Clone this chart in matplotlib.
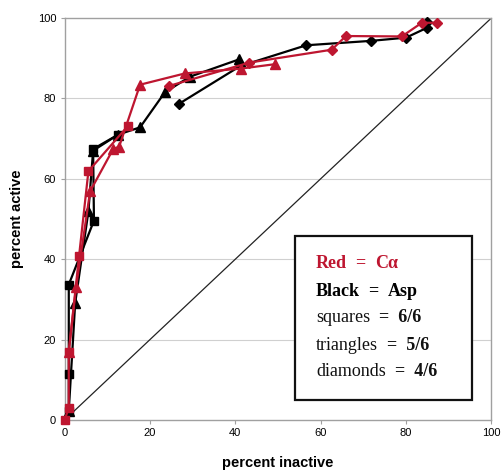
import matplotlib
matplotlib.use("Agg")
import matplotlib.pyplot as plt
from matplotlib.patches import Rectangle

# Red = C-alpha, Black = Asp ; squares 6/6, triangles 5/6, diamonds 4/6
red_sq_x = [0, 1, 1, 3.4, 5.6, 14.9]
red_sq_y = [0, 3, 17, 40.7, 61.9, 73.2]
red_tri_x = [1, 2.7, 6.0, 11.4, 12.8, 17.7, 28.2, 41.3, 49.3]
red_tri_y = [17, 33, 56.9, 67.4, 68.0, 83.4, 86.2, 87.4, 88.5]
red_dia_x = [24.5, 43.3, 62.6, 65.9, 79.0, 83.7, 87.2]
red_dia_y = [83.1, 88.9, 92.1, 95.5, 95.4, 98.8, 98.8]

blk_sq_x = [1, 1, 1, 6.9, 6.7, 12.6]
blk_sq_y = [2.3, 11.5, 33.7, 49.6, 67.4, 71.0]
blk_tri_x = [1, 2.5, 5.6, 6.7, 12.6, 17.7, 23.5, 29.4, 40.9]
blk_tri_y = [2.3, 29.1, 51.9, 67.0, 71.0, 72.8, 81.5, 85.4, 89.7]
blk_dia_x = [26.9, 41.1, 56.6, 71.8, 80.0, 85.0, 85.0]
blk_dia_y = [78.7, 88.0, 93.2, 94.3, 95.1, 97.6, 99.0]

diag = [0, 100]
ticks = [0, 20, 40, 60, 80, 100]

RED = '#BE1630'
BLK = '#000000'

fig = plt.figure(figsize=(5.02, 4.72), dpi=100)
ax = fig.add_axes([0.1285, 0.110, 0.8505, 0.852])
ax.set_xlim(0, 100)
ax.set_ylim(0, 100)

for y in ticks[1:-1]:
    ax.axhline(y, color='#d0d0d0', lw=0.8, zorder=0)

ax.plot(diag, diag, color='#222222', lw=0.9, zorder=1)

lw = 1.6
ms = 6.3
series = [
    (blk_sq_x, blk_sq_y, BLK, 's', ms),
    (blk_tri_x, blk_tri_y, BLK, '^', ms + 0.5),
    (blk_dia_x, blk_dia_y, BLK, 'D', ms - 1.0),
    (red_sq_x, red_sq_y, RED, 's', ms),
    (red_tri_x, red_tri_y, RED, '^', ms + 0.5),
    (red_dia_x, red_dia_y, RED, 'D', ms - 1.0),
]
for xs, ys, c, m, s in series:
    ax.plot(xs, ys, color=c, lw=lw, marker=m, markersize=s,
            markerfacecolor=c, markeredgecolor=c, clip_on=False, zorder=3)

for sp in ax.spines.values():
    sp.set_color('#a0a0a0')
    sp.set_linewidth(1.0)

ax.set_xticks(ticks)
ax.set_yticks(ticks)
ax.tick_params(axis='both', length=3, color='#a0a0a0', labelsize=8, pad=3)
for lab in ax.get_xticklabels() + ax.get_yticklabels():
    lab.set_family('Liberation Sans')
ax.set_xlabel('percent inactive', fontsize=10.5, fontweight='bold',
              family='Liberation Sans', labelpad=13)
ax.set_ylabel('percent active', fontsize=10.5, fontweight='bold',
              family='Liberation Sans', labelpad=10)

# legend-like text box
box = Rectangle((295 / 502, 1 - 400 / 472), (471.5 - 295) / 502, (400 - 236) / 472,
                transform=fig.transFigure, facecolor='white', edgecolor='#111111',
                lw=1.6, zorder=5)
fig.patches.append(box)

fs = 13
serif = 'Liberation Serif'
x0 = 316 / 502
rows = [
    (264, [('Red', 'bold', RED), ('  =  ', 'bold', RED), ('C\u03b1', 'bold', RED)]),
    (291, [('Black', 'bold', BLK), ('  =  ', 'bold', BLK), ('Asp', 'bold', BLK)]),
    (318, [('squares', 'normal', '#111111'), ('  =  6/6', 'bold', '#111111')]),
    (345, [('triangles', 'normal', '#111111'), ('  =  5/6', 'bold', '#111111')]),
    (372, [('diamonds', 'normal', '#111111'), ('  =  4/6', 'bold', '#111111')]),
]
fig.canvas.draw()
renderer = fig.canvas.get_renderer()
for ypx, parts in rows:
    x = x0
    for txt, wt, c in parts:
        t = fig.text(x, 1 - ypx / 472, txt, fontsize=fs, fontweight=wt, color=c,
                     family=serif, va='center', ha='left', zorder=6)
        bb = t.get_window_extent(renderer=renderer)
        x += bb.width / fig.bbox.width

fig.savefig('out.png', dpi=100)
